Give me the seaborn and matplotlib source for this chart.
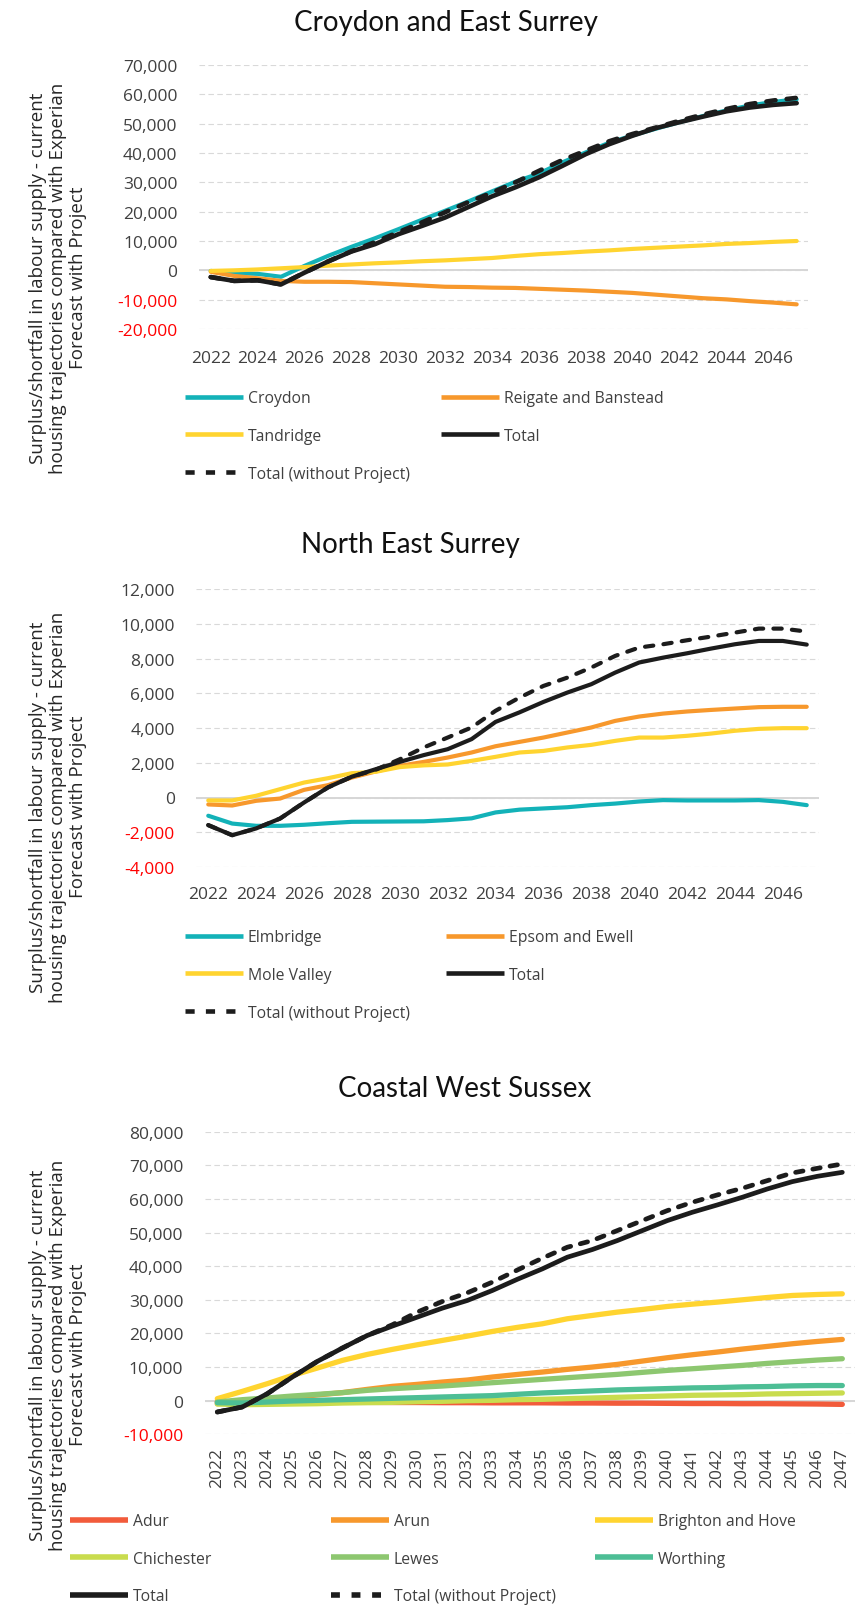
import numpy as np
import pandas as pd
import matplotlib
matplotlib.use("Agg")
import matplotlib.pyplot as plt
from matplotlib.lines import Line2D
import seaborn as sns

sns.set_theme(style="white")
plt.rcParams['font.family'] = ['Open Sans', 'DejaVu Sans']

# ---------------- data ----------------
years = list(range(2022, 2048))

# Croydon and East Surrey
croydon = [-200, -1000, -1200, -2200, 1500, 4900, 8000, 10900, 14000, 17200, 20300, 23500, 26900,
           30200, 33000, 36800, 40200, 43500, 46000, 48300, 50500, 52600, 54500, 56200, 57400, 58300]
reigate = [-500, -1900, -2700, -3600, -3900, -3900, -4000, -4400, -4800, -5200, -5600, -5700, -5900,
           -6000, -6300, -6600, -6900, -7300, -7700, -8300, -8900, -9500, -9900, -10500, -11000, -11600]
tandridge = [-200, 0, 300, 700, 1100, 1600, 2000, 2400, 2700, 3100, 3400, 3800, 4200,
             4900, 5500, 5900, 6400, 6800, 7300, 7700, 8100, 8500, 9000, 9300, 9700, 10000]
total1 = [-2300, -3600, -3400, -4800, -800, 3000, 6400, 8900, 12300, 15100, 18000, 21600, 25200,
          28300, 31700, 35600, 39600, 43000, 45900, 48500, 50500, 52400, 54200, 55500, 56400, 57000]
total_wo1 = [-2300, -3600, -3400, -4800, -800, 3000, 6500, 9600, 13000, 16300, 19800, 23300, 26500,
             30000, 33900, 37600, 40800, 44000, 46500, 48700, 51000, 53100, 55000, 56700, 57900, 58800]

# North East Surrey
elmbridge = [-1050, -1500, -1630, -1630, -1570, -1480, -1400, -1390, -1380, -1370, -1300, -1200, -860,
             -700, -630, -560, -440, -350, -230, -150, -170, -170, -170, -150, -250, -440]
epsom = [-400, -460, -190, -60, 440, 710, 1150, 1500, 1820, 2050, 2300, 2590, 2950,
         3200, 3450, 3740, 4030, 4410, 4660, 4830, 4950, 5040, 5120, 5200, 5220, 5220]
mole = [-170, -170, 100, 480, 860, 1110, 1400, 1480, 1750, 1850, 1900, 2110, 2340,
        2590, 2680, 2880, 3030, 3260, 3450, 3450, 3550, 3680, 3840, 3950, 3990, 3990]
total2 = [-1590, -2170, -1780, -1210, -290, 580, 1200, 1630, 2050, 2440, 2780, 3360, 4350,
          4900, 5500, 6040, 6520, 7190, 7770, 8050, 8300, 8570, 8820, 9010, 9010, 8800]
total_wo2 = [-1590, -2170, -1780, -1210, -290, 580, 1200, 1600, 2200, 2880, 3450, 4030, 4990,
             5750, 6420, 6900, 7480, 8150, 8630, 8820, 9050, 9260, 9490, 9720, 9720, 9550]

# Coastal West Sussex
adur = [-300, -350, -400, -400, -450, -500, -500, -550, -550, -600, -600, -650, -650,
        -650, -700, -700, -750, -750, -800, -850, -850, -900, -900, -950, -1000, -1100]
arun = [-900, -400, 300, 1000, 1700, 2400, 3370, 4260, 4850, 5540, 6140, 7030, 7800,
        8510, 9310, 10000, 10790, 11780, 12770, 13660, 14460, 15350, 16140, 16930, 17620, 18220]
brighton = [600, 2770, 5050, 7520, 9700, 11980, 13760, 15250, 16630, 17920, 19200, 20590, 21800,
            22870, 24360, 25350, 26340, 27130, 28020, 28710, 29310, 30000, 30690, 31290, 31580, 31780]
chichester = [-1000, -1200, -1100, -1000, -900, -700, -600, -500, -300, -200, 0, 100, 300,
              400, 600, 800, 1000, 1200, 1400, 1600, 1700, 1800, 2000, 2100, 2200, 2300]
lewes = [-400, 300, 800, 1390, 1880, 2380, 3070, 3560, 3960, 4360, 4850, 5350, 5840,
         6340, 6830, 7330, 7820, 8420, 9010, 9500, 10000, 10490, 11090, 11580, 12080, 12480]
worthing = [-600, -700, -400, -100, 100, 300, 500, 700, 900, 1100, 1300, 1500, 1900,
            2300, 2600, 2900, 3200, 3400, 3600, 3800, 3900, 4100, 4200, 4400, 4500, 4500]
total3 = [-3370, -1880, 2080, 7030, 11680, 15640, 19400, 22180, 24850, 27520, 29800, 32770, 36100,
          39200, 42670, 44950, 47620, 50590, 53560, 56040, 58220, 60500, 62970, 65150, 66730, 67920]
total_wo3 = [-3370, -1880, 2080, 7030, 11680, 15640, 19400, 22570, 26340, 29500, 32080, 35250, 38850,
             42380, 45640, 47620, 50590, 53560, 56530, 59000, 61190, 63170, 65450, 67720, 69110, 70400]

titles = ["Croydon and East Surrey", "North East Surrey", "Coastal West Sussex"]
ylabel = ("Surplus/shortfall in labour supply - current\n"
          "housing trajectories compared with Experian\n"
          "Forecast with Project")

TEAL = '#13B2B8'
ORANGE = '#F7982C'
YELLOW = '#FFD430'
BLACK = '#1C1C1C'
ADUR = '#F25B3B'
CHI = '#C9DC4E'
LEWES = '#8DC770'
WORTH = '#4DBE95'

W, H = 855, 1608
fig = plt.figure(figsize=(W / 100, H / 100), dpi=100)
TICK_COL = '#404040'


def make_ax(left, right, top, bottom):
    return fig.add_axes([left / W, 1 - bottom / H, (right - left) / W, (bottom - top) / H])


def style_ax(ax, yticks, ylim, xpad, rotate=False, every=2):
    for s in ax.spines.values():
        s.set_visible(False)
    ax.set_xlim(2021.5, 2047.5)
    ax.set_ylim(*ylim)
    ax.set_yticks(yticks)
    ax.set_yticklabels([f"{v:,}" for v in yticks])
    for lab, v in zip(ax.get_yticklabels(), yticks):
        lab.set_color('#FF0000' if v < 0 else TICK_COL)
    xt = years[::every]
    ax.set_xticks(xt)
    ax.set_xticklabels([str(y) for y in xt], rotation=90 if rotate else 0)
    ax.tick_params(axis='y', length=0, pad=15.5, labelsize=12.5)
    ax.tick_params(axis='x', length=0, pad=xpad, labelsize=12.5, labelcolor=TICK_COL)
    ax.grid(False)
    ax.yaxis.grid(True, linestyle=(0, (5, 3)), color='#D9D9D9', lw=0.8)
    ax.axhline(0, color='#D6D6D6', lw=1.4, zorder=1.5)
    ax.set_xlabel('')
    ax.set_ylabel('')


def draw_series(ax, series, lw_col, lw_tot, dash):
    for name, vals, color, kind in series:
        df = pd.DataFrame({'year': years, 'value': vals})
        if kind == 'dash':
            sns.lineplot(data=df, x='year', y='value', ax=ax, color=BLACK, lw=lw_tot,
                         linestyle=(0, dash), dash_capstyle='round', solid_capstyle='round',
                         zorder=5)
        else:
            sns.lineplot(data=df, x='year', y='value', ax=ax, color=color,
                         lw=lw_tot if kind == 'total' else lw_col,
                         solid_capstyle='round', solid_joinstyle='round', zorder=3)


def handle(color, kind, lw, dash):
    if kind == 'dash':
        return Line2D([], [], color=BLACK, lw=lw, linestyle=(0, dash), dash_capstyle='butt')
    return Line2D([], [], color=color, lw=lw, solid_capstyle='butt')


def col_legend(ax, items, x_px, y_top_px, lw, dash, spacing):
    hs = [handle(c, k, lw, dash) for (n, c, k) in items]
    ls = [n for (n, c, k) in items]
    leg = ax.legend(hs, ls, loc='upper left',
                    bbox_to_anchor=(x_px / W, 1 - y_top_px / H),
                    bbox_transform=fig.transFigure, frameon=False,
                    handlelength=3.7, handletextpad=0.3, labelspacing=spacing,
                    borderpad=0, borderaxespad=0, fontsize=11.3)
    for t in leg.get_texts():
        t.set_color(TICK_COL)
    ax.legend_ = None
    ax.add_artist(leg)


def ylabel_text(yc):
    fig.text(58 / W, 1 - yc / H, ylabel, rotation=90, ha='center', va='center',
             fontsize=13.5, color='#262626', linespacing=1.15, multialignment='center')


def title_text(xc, yc, s):
    fig.text(xc / W, 1 - yc / H, s, ha='center', va='center', fontsize=20,
             color='#111111', family=['Lato', 'DejaVu Sans'])


DASH1 = (2.0, 2.45)
DASH3 = (1.6, 2.1)

# ---------------- chart 1 ----------------
ax1 = make_ax(199, 808.4, 66, 330)
s1 = [("Croydon", croydon, TEAL, 'col'), ("Reigate and Banstead", reigate, ORANGE, 'col'),
      ("Tandridge", tandridge, YELLOW, 'col'), ("Total", total1, BLACK, 'total'),
      ("Total (without Project)", total_wo1, BLACK, 'dash')]
draw_series(ax1, s1, 3.0, 3.3, DASH1)
style_ax(ax1, list(range(-20000, 70001, 10000)), (-20000, 70000), 15)
title_text(446, 23, titles[0])
ylabel_text(278)
col_legend(ax1, [("Croydon", TEAL, 'col'), ("Tandridge", YELLOW, 'col'),
                 ("Total (without Project)", BLACK, 'dash')], 185, 391, 3.3, DASH1, 1.4)
col_legend(ax1, [("Reigate and Banstead", ORANGE, 'col'), ("Total", BLACK, 'total')],
           441, 391, 3.3, DASH1, 1.4)

# ---------------- chart 2 ----------------
ax2 = make_ax(196.3, 818.7, 590, 868)
s2 = [("Elmbridge", elmbridge, TEAL, 'col'), ("Epsom and Ewell", epsom, ORANGE, 'col'),
      ("Mole Valley", mole, YELLOW, 'col'), ("Total", total2, BLACK, 'total'),
      ("Total (without Project)", total_wo2, BLACK, 'dash')]
draw_series(ax2, s2, 3.0, 3.0, DASH1)
style_ax(ax2, list(range(-4000, 12001, 2000)), (-4000, 12000), 14)
title_text(410, 545, titles[1])
ylabel_text(807)
col_legend(ax2, [("Elmbridge", TEAL, 'col'), ("Mole Valley", YELLOW, 'col'),
                 ("Total (without Project)", BLACK, 'dash')], 185, 930, 3.3, DASH1, 1.4)
col_legend(ax2, [("Epsom and Ewell", ORANGE, 'col'), ("Total", BLACK, 'total')],
           446, 930, 3.3, DASH1, 1.4)

# ---------------- chart 3 ----------------
ax3 = make_ax(204.8, 854.8, 1132.7, 1435.3)
s3 = [("Adur", adur, ADUR, 'col'), ("Arun", arun, ORANGE, 'col'),
      ("Brighton and Hove", brighton, YELLOW, 'col'), ("Chichester", chichester, CHI, 'col'),
      ("Lewes", lewes, LEWES, 'col'), ("Worthing", worthing, WORTH, 'col'),
      ("Total", total3, BLACK, 'total'), ("Total (without Project)", total_wo3, BLACK, 'dash')]
draw_series(ax3, s3, 3.8, 3.4, DASH3)
style_ax(ax3, list(range(-10000, 80001, 10000)), (-10000, 80000), 9, rotate=True, every=1)
title_text(465, 1089, titles[2])
ylabel_text(1355)
col_legend(ax3, [("Adur", ADUR, 'col'), ("Chichester", CHI, 'col'), ("Total", BLACK, 'total')],
           70, 1514, 4.0, DASH3, 1.37)
col_legend(ax3, [("Arun", ORANGE, 'col'), ("Lewes", LEWES, 'col'),
                 ("Total (without Project)", BLACK, 'dash')], 331, 1514, 4.0, DASH3, 1.37)
col_legend(ax3, [("Brighton and Hove", YELLOW, 'col'), ("Worthing", WORTH, 'col')],
           595, 1514, 4.0, DASH3, 1.37)

fig.savefig("out.png", dpi=100)
